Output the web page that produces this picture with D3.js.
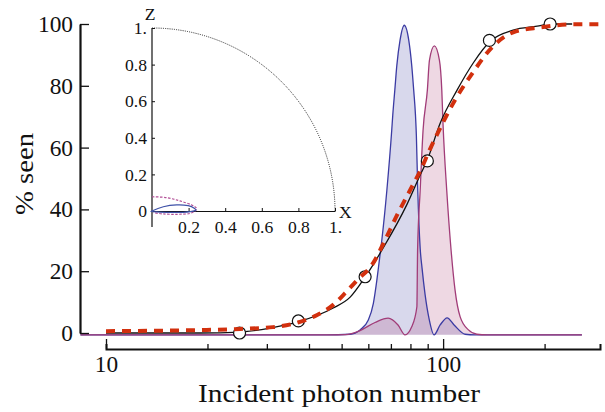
<!DOCTYPE html>
<html>
<head>
<meta charset="utf-8">
<script src="https://cdn.jsdelivr.net/npm/d3@7"></script>
<style>
  body { margin: 0; background: #fff; }
  svg { display: block; }
</style>
</head>
<body>
<div id="chart"></div>
<script>
// values
var yTicks = [0, 20, 40, 60, 80, 100]
var xMajor = [10, 100]
var xMinor = [20, 30, 40, 50, 60, 70, 80, 90, 200]

// measured frequency of seeing (open circles)
var seenN = [24.9, 37.2, 58.7, 89.8, 137.2, 207.7]
var seenPct = [0, 3.9, 18.2, 55.7, 94.7, 100]

// solid black fit
var blackN = [10, 19.0, 25.0, 30.7, 37.1, 47.2, 53.0, 58.7, 66.4, 78.2, 85.5, 89.6, 98.0, 110.0, 122.7, 137.9, 161.3, 190.1, 207.7, 241.4]
var blackPct = [0, 0, 0.3, 1.6, 3.6, 8.1, 11.6, 18.1, 27.5, 41.7, 51.1, 55.8, 67.9, 78.6, 87.3, 94.4, 98.0, 99.3, 100, 100]

// red dashed fit
var redN = [10, 19.9, 25.0, 31.3, 37.6, 42.3, 47.2, 51.2, 55.6, 62.0, 66.4, 73.5, 79.8, 86.6, 90.3, 98.0, 108.5, 122.7, 139.8, 161.3, 194.1, 243.0, 302.5]
var redPct = [0.6, 1.0, 1.3, 1.9, 3.6, 5.8, 9.1, 12.9, 17.1, 22.6, 28.8, 38.8, 46.2, 53.7, 58.2, 66.3, 75.4, 84.4, 92.5, 97.3, 98.9, 99.9, 99.9]

// blue distribution
var blueN = [8.4, 45, 53.0, 56.7, 60.0, 62.1, 63.6, 64.7, 65.8, 68.1, 70.4, 70.9, 71.9, 72.9, 74.5, 76.7, 79.1, 80.7, 81.8, 82.8, 83.3, 84.1, 85.5, 86.6, 88.4, 90.9, 94.0, 98.0, 102.8, 107.8, 116.2, 124.5, 258]
var bluePct = [-0.6, -0.6, -0.4, 1.0, 4.2, 9.6, 17.1, 23.6, 30.1, 46.2, 65.6, 70.5, 78.6, 86.6, 94.7, 99.6, 94.7, 86.6, 78.6, 70.5, 64.0, 46.2, 27.4, 21.0, 12.5, 4.5, -0.6, 2.6, 4.9, 2.6, -0.4, -0.6, -0.6]

// pink distribution
var pinkN = [8.4, 45, 51.2, 56.7, 62.8, 68.7, 73.5, 77.1, 80.7, 83.6, 84.0, 85.5, 87.2, 89.8, 91.1, 94.2, 97.5, 99.1, 100.0, 102.5, 105.6, 108.5, 112.3, 118.9, 125.9, 135, 258]
var pinkPct = [-0.6, -0.6, -0.5, 0.8, 3.4, 4.8, 2.6, -0.6, 2.0, 8.5, 26.8, 46.2, 65.6, 78.6, 88.3, 92.9, 88.3, 78.6, 67.0, 46.2, 26.8, 13.9, 5.3, 1.0, -0.4, -0.6, -0.6]

// inset (x, z)
var insetTicks = [0, 0.2, 0.4, 0.6, 0.8, 1]
var lobeBlueX = [0, 0.062, 0.135, 0.198, 0.231, 0.235, 0.171, 0.080, 0.007]
var lobeBlueZ = [0, 0.023, 0.033, 0.029, 0.015, 0.002, -0.007, -0.007, -0.003]
var lobePinkX = [0, 0.080, 0.153, 0.217, 0.244, 0.208, 0.135, 0.062, 0.007]
var lobePinkZ = [0.078, 0.073, 0.055, 0.033, 0.011, -0.013, -0.018, -0.016, -0.009]


var width = 605, height = 412
var serif = "'Liberation Serif', 'DejaVu Serif', serif"

// pick a font size that gives the label width seen in the picture
var ctx = document.createElement("canvas").getContext("2d")
function fitSize(txt, targetW) {
    ctx.font = "40px " + serif
    return 40 * targetW / ctx.measureText(txt).width
}
var tickSize = fitSize("100", 35)
var insetSize = fitSize("0.8", 22)

var svg = d3.select("#chart").append("svg")
    .attr("width", width)
    .attr("height", height)
    .style("font-family", serif)

var x = d3.scaleLog().domain([10, 292]).range([106, 600])
var y = d3.scaleLinear().domain([0, 100]).range([333, 24])

function zip(a, b) { return a.map(function(d, i) { return [d, b[i]] }) }

var line = d3.line()
    .x(function(d) { return x(d[0]) })
    .y(function(d) { return y(d[1]) })
    .curve(d3.curveMonotoneX)

var area = d3.area()
    .x(function(d) { return x(d[0]) })
    .y0(y(-0.6))
    .y1(function(d) { return y(d[1]) })
    .curve(d3.curveMonotoneX)

// distributions
var blue = zip(blueN, bluePct), pink = zip(pinkN, pinkPct)
svg.append("path").attr("d", area(blue)).attr("fill", "rgba(60,60,160,0.2)")
svg.append("path").attr("d", area(pink)).attr("fill", "rgba(160,40,100,0.18)")
svg.append("path").attr("d", line(blue)).attr("fill", "none").attr("stroke", "#3b3ba3").attr("stroke-width", 1.3)
svg.append("path").attr("d", line(pink)).attr("fill", "none").attr("stroke", "#a13c78").attr("stroke-width", 1.3)

// axes
var xAxis = svg.append("g")
    .attr("transform", "translate(0,349)")
    .call(d3.axisBottom(x)
        .tickValues(xMajor.concat(xMinor))
        .tickSizeInner(-5).tickSizeOuter(-5).tickPadding(6)
        .tickFormat(function(d) { return xMajor.indexOf(d) >= 0 ? d : "" }))
xAxis.select(".domain").attr("stroke", "#111").attr("stroke-width", 2)
xAxis.selectAll(".tick line").attr("stroke", "#111").attr("stroke-width", 1.3)
    .attr("y2", function(d) { return xMajor.indexOf(d) >= 0 ? -10 : -5 })

var yAxis = svg.append("g")
    .attr("transform", "translate(80,0)")
    .call(d3.axisLeft(y).tickValues(yTicks).tickSizeInner(-9).tickSizeOuter(0).tickPadding(7))
yAxis.select(".domain").attr("stroke", "#111").attr("stroke-width", 2.2)
yAxis.selectAll(".tick line").attr("stroke", "#111").attr("stroke-width", 1.3)

svg.selectAll(".tick text")
    .attr("font-family", null)
    .style("font-size", tickSize + "px")
    .attr("fill", "#111")
xAxis.attr("font-family", null)
yAxis.attr("font-family", null)

// fits and data
svg.append("path").attr("d", line(zip(blackN, blackPct)))
    .attr("fill", "none").attr("stroke", "#111").attr("stroke-width", 1.3)

svg.selectAll(".seen")
    .data(zip(seenN, seenPct))
    .enter().append("circle")
    .attr("class", "seen")
    .attr("cx", function(d) { return x(d[0]) })
    .attr("cy", function(d) { return y(d[1]) })
    .attr("r", 6)
    .attr("fill", "#fff").attr("stroke", "#111").attr("stroke-width", 1.2)

svg.append("path").attr("d", line(zip(redN, redPct)))
    .attr("fill", "none").attr("stroke", "#d2300e").attr("stroke-width", 4)
    .attr("stroke-dasharray", "9,7")

// axis titles
svg.append("text")
    .attr("x", 339).attr("y", 402)
    .attr("text-anchor", "middle")
    .style("font-size", (tickSize * 1.08) + "px")
    .attr("fill", "#111")
    .attr("textLength", 282).attr("lengthAdjust", "spacingAndGlyphs")
    .text("Incident photon number")

svg.append("text")
    .attr("transform", "translate(33,174) rotate(-90)")
    .attr("text-anchor", "middle")
    .style("font-size", (tickSize * 1.08) + "px")
    .attr("fill", "#111")
    .attr("textLength", 82).attr("lengthAdjust", "spacingAndGlyphs")
    .text("% seen")

// inset
var ix = d3.scaleLinear().domain([0, 1]).range([152, 335])
var iz = d3.scaleLinear().domain([0, 1]).range([211, 28])
var inset = svg.append("g")

var izAxis = inset.append("g")
    .attr("transform", "translate(" + ix(0) + ",0)")
    .call(d3.axisLeft(iz).tickValues(insetTicks).tickSizeInner(-3).tickSizeOuter(0).tickPadding(5)
        .tickFormat(function(d) { return d === 0 ? "0" : d === 1 ? "1." : d3.format(".1f")(d) }))
izAxis.select(".domain").remove()
var ixAxis = inset.append("g")
    .attr("transform", "translate(0," + iz(0) + ")")
    .call(d3.axisBottom(ix).tickValues(insetTicks.slice(1)).tickSizeInner(-3).tickSizeOuter(0).tickPadding(10)
        .tickFormat(function(d) { return d === 1 ? "1." : d3.format(".1f")(d) }))
izAxis.attr("font-family", null)
ixAxis.attr("font-family", null)
inset.selectAll(".tick line").attr("stroke", "#111").attr("stroke-width", 1)
inset.selectAll(".tick text").style("font-size", insetSize + "px").attr("fill", "#111")
ixAxis.select(".domain").attr("stroke", "#111").attr("stroke-width", 1.2)
inset.append("line")
    .attr("x1", ix(0)).attr("x2", ix(0))
    .attr("y1", iz(1)).attr("y2", iz(-0.087))
    .attr("stroke", "#111").attr("stroke-width", 1.2)

inset.append("text").attr("x", ix(0) - 2).attr("y", 20).attr("text-anchor", "middle")
    .style("font-size", insetSize + "px").attr("fill", "#111").text("Z")
inset.append("text").attr("x", ix(1) + 4).attr("y", 218)
    .style("font-size", insetSize + "px").attr("fill", "#111").text("X")

var r = ix(1) - ix(0)
var arc = d3.path()
arc.moveTo(ix(0), iz(0) - r)
arc.arc(ix(0), iz(0), r, -Math.PI / 2, 0)
inset.append("path").attr("d", arc.toString())
    .attr("fill", "none").attr("stroke", "#222").attr("stroke-width", 1)
    .attr("stroke-dasharray", "1,1.2")

var lobe = d3.line()
    .x(function(d) { return ix(d[0]) })
    .y(function(d) { return iz(d[1]) })
inset.append("path").attr("d", lobe.curve(d3.curveCardinal)(zip(lobePinkX, lobePinkZ)))
    .attr("fill", "none").attr("stroke", "#b24f96").attr("stroke-width", 1.2)
    .attr("stroke-dasharray", "2.5,1.5")
inset.append("path").attr("d", lobe.curve(d3.curveCardinalClosed)(zip(lobeBlueX, lobeBlueZ)))
    .attr("fill", "none").attr("stroke", "#3f52a8").attr("stroke-width", 1.2)
</script>
</body>
</html>
